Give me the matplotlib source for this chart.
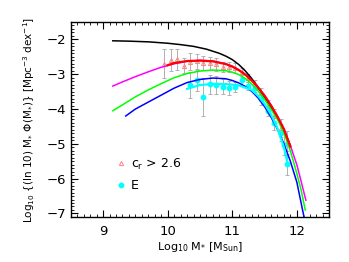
import matplotlib
matplotlib.use('Agg')
import matplotlib.pyplot as plt
from matplotlib.ticker import MultipleLocator

plt.rcParams['mathtext.default'] = 'regular'
plt.rcParams['font.family'] = 'DejaVu Sans'

# model curves (log10 M, log10 phi)
black_x = [9.15, 9.4, 9.7, 10.0, 10.2, 10.4, 10.6, 10.8, 10.9, 11.0, 11.1, 11.2, 11.3, 11.4, 11.5, 11.6, 11.7, 11.8, 11.9]
black_y = [-2.04, -2.05, -2.07, -2.11, -2.15, -2.20, -2.28, -2.40, -2.48, -2.58, -2.72, -2.90, -3.12, -3.38, -3.66, -3.96, -4.25, -4.60, -5.05]

mag_x = [9.15, 9.3, 9.5, 9.7, 9.9, 10.1, 10.3, 10.5, 10.7, 10.9, 11.0, 11.1, 11.2, 11.3, 11.4, 11.5, 11.6, 11.7, 11.8, 11.9, 12.0, 12.07, 12.14]
mag_y = [-3.34, -3.22, -3.07, -2.93, -2.80, -2.70, -2.63, -2.60, -2.62, -2.70, -2.77, -2.87, -3.00, -3.17, -3.37, -3.60, -3.88, -4.20, -4.56, -5.05, -5.60, -6.10, -6.62]

green_x = [9.15, 9.3, 9.5, 9.7, 9.9, 10.1, 10.3, 10.5, 10.7, 10.9, 11.0, 11.1, 11.2, 11.3, 11.4, 11.5, 11.6, 11.7, 11.8, 11.9, 12.0, 12.07, 12.13]
green_y = [-4.05, -3.88, -3.65, -3.45, -3.27, -3.10, -2.98, -2.91, -2.88, -2.90, -2.94, -3.01, -3.12, -3.28, -3.48, -3.72, -4.00, -4.30, -4.68, -5.20, -5.85, -6.35, -6.90]

blue_x = [9.35, 9.5, 9.7, 9.9, 10.1, 10.3, 10.5, 10.7, 10.9, 11.0, 11.1, 11.2, 11.3, 11.4, 11.5, 11.6, 11.7, 11.8, 11.9, 12.0, 12.1, 12.12]
blue_y = [-4.20, -4.00, -3.80, -3.60, -3.40, -3.24, -3.15, -3.11, -3.13, -3.18, -3.25, -3.35, -3.49, -3.68, -3.93, -4.23, -4.58, -5.00, -5.50, -6.10, -7.00, -7.15]

red_x = [10.0, 10.1, 10.3, 10.5, 10.7, 10.9, 11.0, 11.1, 11.2, 11.3, 11.4, 11.5, 11.6, 11.7, 11.8, 11.9]
red_y = [-2.74, -2.68, -2.62, -2.61, -2.63, -2.71, -2.78, -2.88, -3.01, -3.18, -3.38, -3.62, -3.90, -4.22, -4.58, -5.08]

cyan_x = [10.3, 10.5, 10.7, 10.9, 11.1, 11.3, 11.4, 11.5, 11.6, 11.7, 11.8, 11.85]
cyan_y = [-3.42, -3.31, -3.28, -3.28, -3.32, -3.45, -3.62, -3.85, -4.15, -4.55, -5.10, -5.50]

# data points: concentrated (c_r > 2.6) sample
tri_x = [9.95, 10.05, 10.15, 10.25, 10.35, 10.45, 10.55, 10.65, 10.75, 10.85, 10.95, 11.05, 11.15, 11.25, 11.35, 11.45, 11.55, 11.65, 11.75, 11.85]
tri_y = [-2.70, -2.60, -2.57, -2.75, -2.64, -2.63, -2.69, -2.69, -2.72, -2.80, -2.80, -2.82, -2.95, -3.10, -3.29, -3.55, -3.90, -4.20, -4.55, -4.92]
tri_err = [0.42, 0.32, 0.30, 0.22, 0.25, 0.22, 0.2, 0.18, 0.18, 0.15, 0.15, 0.15, 0.12, 0.12, 0.12, 0.15, 0.15, 0.2, 0.25, 0.3]

# data points: ellipticals
e_x = [10.35, 10.45, 10.55, 10.65, 10.75, 10.85, 10.95, 11.05, 11.15, 11.25, 11.35, 11.45, 11.55, 11.65, 11.75, 11.80, 11.85]
e_y = [-3.31, -3.17, -3.65, -3.29, -3.31, -3.36, -3.39, -3.36, -3.17, -3.34, -3.39, -3.72, -4.06, -4.39, -4.68, -5.02, -5.59]
e_err = [0.38, 0.30, 0.55, 0.28, 0.25, 0.22, 0.2, 0.15, 0.15, 0.12, 0.12, 0.15, 0.15, 0.2, 0.25, 0.3, 0.3]

fig = plt.figure(figsize=(3.49, 2.62), dpi=100)
ax = fig.add_axes([0.203, 0.172, 0.74, 0.744])

ax.errorbar(tri_x, tri_y, yerr=tri_err, fmt='none', ecolor='#b0b0b0', elinewidth=0.7, capsize=1.2, capthick=0.7, zorder=2)
ax.errorbar(e_x, e_y, yerr=e_err, fmt='none', ecolor='#b0b0b0', elinewidth=0.7, capsize=1.2, capthick=0.7, zorder=2)

h1, = ax.plot(tri_x, tri_y, ls='none', marker='^', ms=3, mfc='none', mec='#ff8080', mew=0.7, zorder=3)
h2, = ax.plot(e_x, e_y, ls='none', marker='o', ms=3.2, mfc='#00ffff', mec='#00ffff', zorder=3)

ax.plot(black_x, black_y, color='black', lw=1.1, zorder=4)
ax.plot(mag_x, mag_y, color='#ff00ff', lw=1.1, zorder=4)
ax.plot(green_x, green_y, color='#00ff00', lw=1.1, zorder=4)
ax.plot(blue_x, blue_y, color='#0000ff', lw=1.1, zorder=4)
ax.plot(cyan_x, cyan_y, color='#00ffff', lw=1.6, zorder=5)
ax.plot(red_x, red_y, color='#ff0000', lw=1.6, zorder=5)

ax.legend([h1, h2], ['c$_r$ > 2.6', 'E'], loc='lower left', bbox_to_anchor=(0.13, 0.07),
          frameon=False, fontsize=9, handlelength=0.8, handletextpad=0.4, labelspacing=0.6)

ax.set_xlim(8.5, 12.5)
ax.set_ylim(-7.1, -1.5)
ax.xaxis.set_major_locator(MultipleLocator(1))
ax.xaxis.set_minor_locator(MultipleLocator(0.1))
ax.yaxis.set_major_locator(MultipleLocator(1))
ax.yaxis.set_minor_locator(MultipleLocator(0.1))
ax.tick_params(which='both', direction='in', top=True, right=True, labelsize=9.5)
ax.tick_params(which='major', length=5, width=0.8)
ax.tick_params(which='minor', length=2.5, width=0.6)
ax.tick_params(axis='x', pad=6)
for s in ax.spines.values():
    s.set_linewidth(1.0)

ax.set_xlabel('Log$_{10}$ M$_{*}$ [M$_{Sun}$]', fontsize=8, labelpad=1)
ax.set_ylabel('Log$_{10}$ {(ln 10) M$_{*}$ $\\Phi$(M$_{*}$)} [Mpc$^{-3}$ dex$^{-1}$]', fontsize=7.5, labelpad=7)

fig.savefig('out.png', dpi=100)
